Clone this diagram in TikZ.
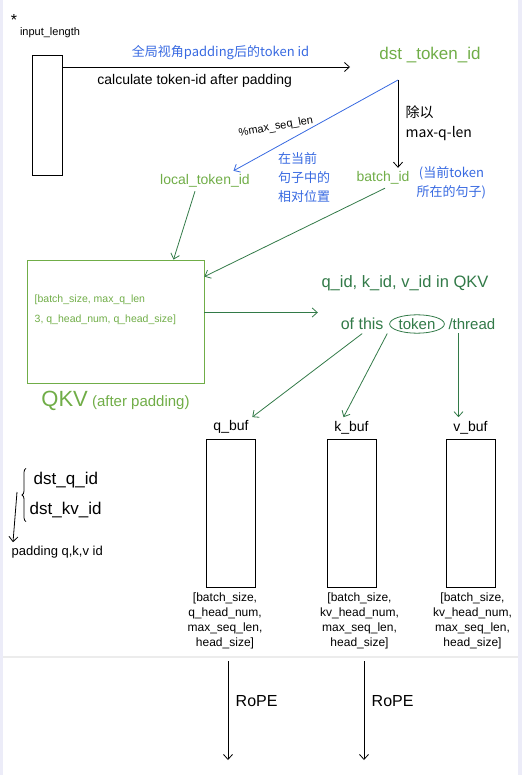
\documentclass[tikz,border=0pt]{standalone}
\usepackage{fontspec}
\setmainfont{Liberation Sans}
\newfontfamily\cjk{Noto Sans CJK SC}
\usepackage{tikz}
\usetikzlibrary{arrows.meta, calc, positioning, shapes.geometric, decorations.pathreplacing}
\definecolor{penGreen}{RGB}{112,173,71}
\definecolor{darkGreen}{RGB}{50,122,72}
\definecolor{penBlue}{RGB}{55,105,225}
\definecolor{frame}{RGB}{236,236,248}

\begin{document}
\begin{tikzpicture}[x=1pt, y=-1pt, line width=0.8pt, >={Straight Barb[length=5pt,width=9pt]},
  buf/.style={draw, minimum width=49pt, minimum height=148pt, inner sep=0pt},
  dims/.style={align=center, font=\fontsize{12}{15}\selectfont}]
\useasboundingbox (0,0) rectangle (522,775);
\fill[frame] (0,0) rectangle (3,775);
\fill[frame] (518,0) rectangle (522,775);
\draw[gray!15, line width=1.5pt] (3,657) -- (518,657);

% Input
\node[font=\fontsize{16}{16}\selectfont] (star) at (14,20) {*};
\node[font=\fontsize{11}{12}\selectfont] (inlen) at (50,33) {input\_length};
\node[draw, minimum width=30pt, minimum height=120pt, inner sep=0pt] (inbox) at (47,115) {};

% token id after padding
\node[penGreen, font=\fontsize{17}{17}\selectfont] (dst) at (430,55) {dst \_token\_id};
\coordinate (calcend) at (350,67);
\draw[->] (inbox.east |- calcend) -- (calcend)
  node[pos=0.55, above=4pt, penBlue, font=\cjk\fontsize{13}{13}\selectfont] (global) {全局视角padding后的token id}
  node[pos=0.46, below=4pt, font=\fontsize{14}{14}\selectfont] (calc) {calculate token-id after padding};

% Split into batch / local
\node[penGreen, font=\fontsize{14}{14}\selectfont] (local) at (205,181) {local\_token\_id};
\node[penGreen, font=\fontsize{14}{14}\selectfont] (batch) at (383,178) {batch\_id};
\coordinate (split) at (398,80);
\draw[->] (split) -- (split |- batch.north);
\draw[penBlue, ->] (split) -- ([xshift=-20pt]local.north east);
\node[rotate=10, font=\fontsize{11}{11}\selectfont] (modlab) at (276,127) {\%max\_seq\_len};
\node[anchor=west, align=left, font=\cjk\fontsize{14}{20}\selectfont] (divlab) at (402,123) {除以\\max-q-len};
\node[penBlue, align=left, font=\cjk\fontsize{13}{19}\selectfont] (relpos) at (304,178) {在当前\\句子中的\\相对位置};
\node[penBlue, anchor=west, align=center, font=\cjk\fontsize{13}{19}\selectfont] (sentnote) at (413,183) {(当前token\\所在的句子)};

% QKV after padding
\node[draw=penGreen, minimum width=177pt, minimum height=123pt, inner sep=0pt] (qkvbox) at (115.5,321.5) {};
\node[penGreen, anchor=west, align=left, font=\fontsize{10.5}{20}\selectfont] (shape) at (31,310) {[batch\_size, max\_q\_len\\3, q\_head\_num, q\_head\_size]};
\node[penGreen, below=4pt of qkvbox, font=\fontsize{15}{15}\selectfont] (qkvlab) {{\fontsize{22}{22}\selectfont QKV} (after padding)};
\draw[darkGreen, ->] ([xshift=-10pt]local.south) -- ([xshift=58pt]qkvbox.north);
\draw[darkGreen, ->] ([xshift=2pt]batch.south) -- ([yshift=-17pt]qkvbox.north east);

% ids of this token
\node[darkGreen, font=\fontsize{16.5}{16.5}\selectfont] (ids) at (405,283) {q\_id, k\_id, v\_id in QKV};
\node[draw=darkGreen, ellipse, inner sep=1pt, darkGreen, font=\fontsize{15}{15}\selectfont] (tok) at (417,324) {token};
\node[darkGreen, left=2pt of tok, font=\fontsize{16}{16}\selectfont] (ofthis) {of this};
\node[darkGreen, right=0pt of tok, font=\fontsize{15}{15}\selectfont] (thread) {/thread};
\coordinate (qkvout) at ([yshift=9pt]qkvbox.east);
\draw[darkGreen, ->] (qkvout) -- (qkvout -| ids.west);

% Buffers
\node[buf] (qbuf) at (231,513) {};
\node[buf] (kbuf) at (351.5,513) {};
\node[buf] (vbuf) at (470.5,513) {};
\node[above=1pt of qbuf, font=\fontsize{14}{14}\selectfont] (qlab) {q\_buf};
\node[above=1pt of kbuf, font=\fontsize{14}{14}\selectfont] (klab) {k\_buf};
\node[above=1pt of vbuf, font=\fontsize{14}{14}\selectfont] (vlab) {v\_buf};
\draw[darkGreen, ->] (ofthis.south) -- (qlab.north east);
\draw[darkGreen, ->] (ofthis.south east) -- ([xshift=-8pt]klab.north);
\draw[darkGreen, ->] ([xshift=-12pt]vlab.north |- thread.south) -- ([xshift=-12pt]vlab.north);
\node[dims, below=2pt of qbuf, xshift=-6pt] (qdim) {[batch\_size,\\q\_head\_num,\\max\_seq\_len,\\head\_size]};
\node[dims, below=2pt of kbuf, xshift=8pt] (kdim) {[batch\_size,\\kv\_head\_num,\\max\_seq\_len,\\head\_size]};
\node[dims, below=2pt of vbuf, xshift=2pt] (vdim) {[batch\_size,\\kv\_head\_num,\\max\_seq\_len,\\head\_size]};

% dst ids -> padding ids
\node[anchor=west, font=\fontsize{17}{17}\selectfont] (dstq) at (30,480) {dst\_q\_id};
\node[anchor=west, font=\fontsize{17}{17}\selectfont] (dstkv) at (26,510) {dst\_kv\_id};
\node[anchor=west, font=\fontsize{13}{13}\selectfont] (pad) at (8,552) {padding q,k,v id};
\draw[decorate, decoration={brace, amplitude=4pt}] (dstkv.south west) -- (dstkv.west |- dstq.north);
\coordinate (bracetip) at (17,492);
\draw[->] (bracetip) -- ([xshift=5pt]pad.north west);

% RoPE
\coordinate (qend) at (228,760);
\coordinate (kend) at (364,760);
\draw[->, shorten <=8pt] (qdim.south -| qend) -- (qend)
  node[pos=0.45, right=4pt, font=\fontsize{16}{16}\selectfont] (qrope) {RoPE};
\draw[->, shorten <=8pt] (kdim.south -| kend) -- (kend)
  node[pos=0.45, right=4pt, font=\fontsize{16}{16}\selectfont] (krope) {RoPE};
\end{tikzpicture}
\end{document}
